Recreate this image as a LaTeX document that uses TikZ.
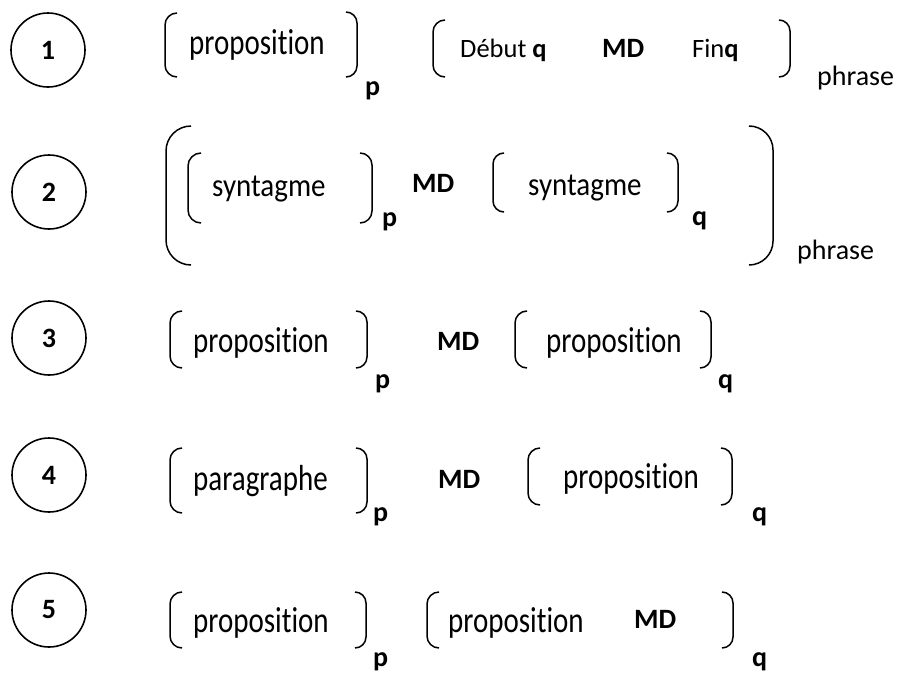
\documentclass[tikz,border=0pt]{standalone}
\usepackage{fontspec}
\setmainfont{Carlito}[Ligatures=NoCommon]
\usepackage{graphicx}
\newcommand\Lbr[4]{\draw[brk,rounded corners=#4] ({#1+#4},#2) -- (#1,#2) -- (#1,#3) -- ({#1+#4},#3);}
\newcommand\Rbr[4]{\draw[brk,rounded corners=#4] ({#1-#4},#2) -- (#1,#2) -- (#1,#3) -- ({#1-#4},#3);}
\newcommand\tallw[2][1.25]{\scalebox{1}[#1]{#2}}
\begin{document}
\begin{tikzpicture}[x=1pt,y=-1pt,
  brk/.style={line width=1.5pt},
  t/.style={inner sep=0pt, anchor=base west, font=\fontsize{28}{34}\selectfont},
  ts/.style={inner sep=0pt, anchor=base west, font=\fontsize{26.5}{32}\selectfont},
  tw/.style={inner sep=0pt, anchor=base west, font=\fontsize{29}{35}\selectfont},
  tb/.style={inner sep=0pt, anchor=base west, font=\fontsize{28}{34}\selectfont\bfseries},
  num/.style={circle, draw, line width=1.6pt, minimum size=74pt, inner sep=0pt, font=\fontsize{28}{34}\selectfont\bfseries}]
\useasboundingbox (0,0) rectangle (899,672);
% Row 1
\node[num] (c1) at (48,50) {1};
\Lbr{165}{13}{77}{12}
\node[tw] (w1) at (189,54) {\tallw{proposition}};
\Rbr{357}{12}{77}{11}
\node[tb] (p1) at (365,95) {p};
\Lbr{433}{20}{77}{12}
\node[ts] (d1) at (460,57) {Début \textbf{q}};
\node[tb] (m1) at (602,57) {MD};
\node[ts] (f1) at (692,57) {Fin\textbf{q}};
\Rbr{790}{20}{77}{11}
\node[t] (ph1) at (817,85) {phrase};
% Row 2
\node[num] (c2) at (49,192) {2};
\Lbr{166}{126}{265}{25}
\Lbr{188}{153}{223}{13}
\node[tw] (s1) at (212,196) {\tallw[1.12]{syntagme}};
\Rbr{372}{153}{223}{12}
\node[tb] (p2) at (382,226) {p};
\node[tb] (m2) at (412,192) {MD};
\Lbr{493}{153}{212}{11}
\node[tw] (s2) at (528,195) {\tallw[1.12]{syntagme}};
\Rbr{678}{153}{212}{11}
\node[tb] (q2) at (692,225) {q};
\Rbr{773}{126}{265}{24}
\node[t] (ph2) at (797,259) {phrase};
% Row 3
\node[num] (c3) at (49,338) {3};
\Lbr{170}{311}{368}{12}
\node[tw] (w3a) at (193,352) {\tallw{proposition}};
\Rbr{367}{311}{368}{11}
\node[tb] (p3) at (375,388) {p};
\node[tb] (m3) at (437,350) {MD};
\Lbr{515}{311}{368}{12}
\node[tw] (w3b) at (546,352) {\tallw{proposition}};
\Rbr{711}{311}{368}{11}
\node[tb] (q3) at (718,388) {q};
% Row 4
\node[num] (c4) at (49,475) {4};
\Lbr{170}{448}{513}{12}
\node[tw] (w4a) at (193,490) {\tallw{paragraphe}};
\Rbr{367}{448}{513}{11}
\node[tb] (p4) at (373,521) {p};
\node[tb] (m4) at (438,488) {MD};
\Lbr{528}{448}{505}{12}
\node[tw] (w4b) at (563,488) {\tallw{proposition}};
\Rbr{732}{448}{505}{11}
\node[tb] (q4) at (752,521) {q};
% Row 5
\node[num] (c5) at (49,610) {5};
\Lbr{170}{592}{648}{12}
\node[tw] (w5a) at (193,632) {\tallw{proposition}};
\Rbr{366}{592}{648}{11}
\node[tb] (p5) at (373,666) {p};
\Lbr{427}{592}{648}{12}
\node[tw] (w5b) at (448,632) {\tallw{proposition}};
\node[tb] (m5) at (634,628) {MD};
\Rbr{733}{592}{648}{11}
\node[tb] (q5) at (752,666) {q};
\end{tikzpicture}
\end{document}
